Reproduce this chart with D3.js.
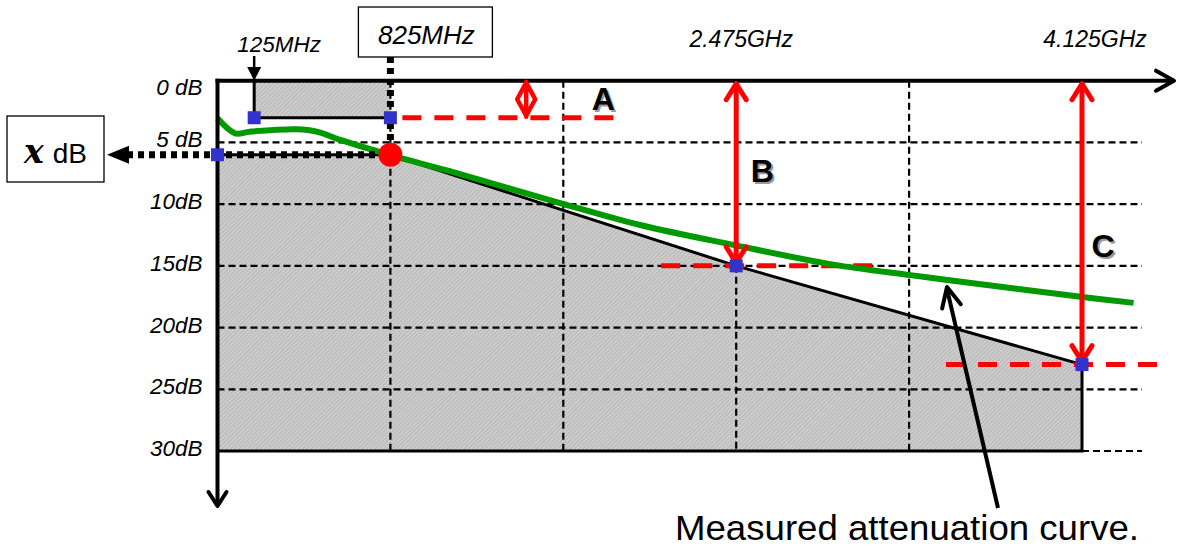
<!DOCTYPE html>
<html><head><meta charset="utf-8">
<script src="https://cdn.jsdelivr.net/npm/d3@7"></script>
<style>body{margin:0;background:#fff}svg{display:block}</style>
</head><body>
<svg id="c" width="1178" height="552"></svg>
<script>
// ---------- data ----------
const gridFreqs = [825, 1650, 2475, 3300];            // MHz, vertical grid
const dbTicks   = [0, 5, 10, 15, 20, 25, 30];
const dbLabels  = ["0 dB", "5 dB", "10dB", "15dB", "20dB", "25dB", "30dB"];
const freqMarks  = [175, 825, 2475, 4125];             // drawn marker positions (MHz)
const freqLabels = ["125MHz", "825MHz", "2.475GHz", "4.125GHz"];
const maskFreq = [0, 825, 2475, 4125];
const maskDb   = [6, 6, 15, 23];
const passFreq = [175, 825];
const passDb   = [3, 3];
const curveFreq = [0, 84, 155, 378, 474, 585, 742, 871, 1100, 1635, 2017, 2461, 2938, 3306, 3483, 4118, 4371];
const curveDb   = [3.05, 4.26, 4.13, 3.94, 4.13, 4.80, 5.61, 6.26, 7.29, 9.91, 11.69, 13.3, 14.9, 15.75, 16.15, 17.5, 18.0];
const limitNames = ["A", "B", "C"];
const limitFreq  = [1473, 2475, 4125];
const limitDb    = [3, 15, 23];
const xdBValue = 6;
const captionText = "Measured attenuation curve.";

// ---------- layout ----------
const svg = d3.select("#c");
const X0 = 217.5, X1 = 1082, Y0 = 80.7, Y1 = 451, GRID_R = 1142;
const x = d3.scaleLinear().domain([0, 4125]).range([X0, X1]);
const y = d3.scaleLinear().domain([0, 30]).range([Y0, Y1]);
const SANS = "'Liberation Sans', Arial, sans-serif";

// hatch pattern
const defs = svg.append("defs");
const pat = defs.append("pattern").attr("id", "hatch").attr("patternUnits", "userSpaceOnUse")
  .attr("width", 3).attr("height", 3).attr("patternTransform", "rotate(45)");
pat.append("rect").attr("width", 3).attr("height", 3).attr("fill", "#cdcdcd");
pat.append("line").attr("x1", 0).attr("y1", 0).attr("x2", 0).attr("y2", 3)
  .attr("stroke", "#a2a2a2").attr("stroke-width", 1);

// shaded mask region
const maskPts = maskFreq.map((f, i) => [x(f), y(maskDb[i])])
  .concat([[x(maskFreq[maskFreq.length - 1]), y(30)], [x(0), y(30)]]);
svg.append("path").attr("d", d3.line()(maskPts) + "Z").attr("fill", "url(#hatch)");
// pass-band region
svg.append("rect").attr("x", x(passFreq[0])).attr("y", y(0))
  .attr("width", x(passFreq[1]) - x(passFreq[0])).attr("height", y(passDb[0]) - y(0))
  .attr("fill", "url(#hatch)");

// grid
const grid = svg.append("g").attr("stroke", "#000").attr("stroke-width", 2.2).attr("stroke-dasharray", "7,4");
dbTicks.filter(d => d > 0 && d < 30).forEach(d => {
  grid.append("line").attr("x1", X0).attr("x2", GRID_R).attr("y1", y(d)).attr("y2", y(d));
});
grid.append("line").attr("x1", x(4125)).attr("x2", GRID_R).attr("y1", y(30)).attr("y2", y(30));
gridFreqs.forEach(f => {
  const top = f === 2475 ? y(15) : Y0;
  grid.append("line").attr("x1", x(f)).attr("x2", x(f)).attr("y1", top).attr("y2", Y1);
});

// outlines
svg.append("path").attr("d", d3.line()(maskPts.slice(1)) )
  .attr("fill", "none").attr("stroke", "#000").attr("stroke-width", 3);
svg.append("path").attr("d", d3.line()([[x(passFreq[0]), y(0)], [x(passFreq[0]), y(passDb[0])], [x(passFreq[1]), y(passDb[1])]]))
  .attr("fill", "none").attr("stroke", "#000").attr("stroke-width", 3);
svg.append("line").attr("x1", X0).attr("x2", x(825)).attr("y1", y(xdBValue)).attr("y2", y(xdBValue))
  .attr("stroke", "#000").attr("stroke-width", 3);

// red dashed limit lines
const redDash = svg.append("g").attr("stroke", "#ff0000").attr("stroke-width", 5).attr("stroke-dasharray", "19,13");
const dashExt = [[-124, 91], [-75, 139], [-136, 78]];
limitFreq.forEach((f, i) => {
  const xr = i === 0 ? x(825) + 12 : x(f) + dashExt[i][0];
  const xe = x(f) + dashExt[i][1];
  redDash.append("line").attr("x1", xr).attr("x2", xe).attr("y1", y(limitDb[i])).attr("y2", y(limitDb[i]));
});

// green measured curve
const curvePts = curveFreq.map((f, i) => [x(f), y(curveDb[i])]);
svg.append("path").attr("d", d3.line().curve(d3.curveCatmullRom.alpha(0.5))(curvePts))
  .attr("fill", "none").attr("stroke", "#009900").attr("stroke-width", 6);

// axes
svg.append("line").attr("x1", X0 - 2).attr("x2", 1174).attr("y1", Y0).attr("y2", Y0)
  .attr("stroke", "#000").attr("stroke-width", 4);
svg.append("path").attr("d", `M1156,${Y0 - 10}L1174,${Y0}L1156,${Y0 + 10}`)
  .attr("fill", "none").attr("stroke", "#000").attr("stroke-width", 4).attr("stroke-linecap", "round").attr("stroke-linejoin", "round");
svg.append("line").attr("x1", X0).attr("x2", X0).attr("y1", Y0 - 2).attr("y2", 505)
  .attr("stroke", "#000").attr("stroke-width", 4);
svg.append("path").attr("d", `M${X0 - 9},492L${X0},506L${X0 + 9},492`)
  .attr("fill", "none").attr("stroke", "#000").attr("stroke-width", 4).attr("stroke-linecap", "round").attr("stroke-linejoin", "round");

// y tick labels via d3 axis
const yAxis = svg.append("g").attr("transform", `translate(${X0},0)`)
  .call(d3.axisLeft(y).tickValues(dbTicks).tickFormat((d, i) => dbLabels[i]).tickSize(0).tickPadding(15));
yAxis.select(".domain").remove();
yAxis.selectAll("text").attr("font-family", SANS).attr("font-style", "italic").attr("font-size", 22.5)
  .attr("fill", "#000").attr("dy", (d, i) => i === 0 ? "0.62em" : "0.2em");

// top frequency labels
const labDx = [25, 36, 5, 13], labY = [52, 44, 47, 47], labSize = [22.5, 26, 23, 23];
freqLabels.forEach((t, i) => {
  svg.append("text").attr("x", x(freqMarks[i]) + labDx[i]).attr("y", labY[i])
    .attr("text-anchor", "middle").attr("font-family", SANS).attr("font-style", "italic")
    .attr("font-size", labSize[i]).text(t);
});
// 825MHz box
svg.append("rect").attr("x", x(825) - 32).attr("y", 7).attr("width", 134).attr("height", 50)
  .attr("fill", "none").attr("stroke", "#000").attr("stroke-width", 1.3);
// 125MHz arrow
svg.append("line").attr("x1", x(175)).attr("x2", x(175)).attr("y1", 56).attr("y2", 70)
  .attr("stroke", "#000").attr("stroke-width", 2.5);
svg.append("path").attr("d", `M${x(175) - 7},67L${x(175) + 7},67L${x(175)},${Y0}Z`).attr("fill", "#000");

// thick dotted lines (825MHz and x dB)
svg.append("line").attr("x1", x(825)).attr("x2", x(825)).attr("y1", 57).attr("y2", y(xdBValue))
  .attr("stroke", "#000").attr("stroke-width", 7).attr("stroke-dasharray", "6,5");
svg.append("line").attr("x1", 127).attr("x2", x(825)).attr("y1", y(xdBValue)).attr("y2", y(xdBValue))
  .attr("stroke", "#000").attr("stroke-width", 7).attr("stroke-dasharray", "6,5");
svg.append("path").attr("d", `M107,${y(xdBValue)}L129,${y(xdBValue) - 9}L129,${y(xdBValue) + 9}Z`).attr("fill", "#000");
// x dB box
svg.append("rect").attr("x", 7).attr("y", 116).attr("width", 97).attr("height", 66)
  .attr("fill", "#fff").attr("stroke", "#000").attr("stroke-width", 1.3);
const xt = svg.append("text").attr("x", 24).attr("y", 163);
xt.append("tspan").attr("font-family", "'DejaVu Serif', serif").attr("font-style", "italic")
  .attr("font-weight", "bold").attr("font-size", 33).text("x");
xt.append("tspan").attr("font-family", SANS).attr("font-size", 28).attr("dx", 9).text("dB");

// red limit arrows
const red = svg.append("g").attr("stroke", "#ff0000").attr("fill", "none")
  .attr("stroke-linecap", "round").attr("stroke-linejoin", "round");
limitFreq.forEach((f, i) => {
  const xx = x(f), yt = Y0 + 1, yb = y(limitDb[i]) - 1;
  if (i === 0) {
    red.append("path").attr("stroke-width", 4.5)
      .attr("d", `M${xx},${yt + 1}L${xx - 9},${(yt + yb) / 2}L${xx},${yb - 1}L${xx + 9},${(yt + yb) / 2}Z M${xx},${yt}L${xx},${yb}`);
  } else {
    red.append("line").attr("stroke-width", 5).attr("x1", xx).attr("x2", xx).attr("y1", yt + 2).attr("y2", yb - 2);
    red.append("path").attr("stroke-width", 5)
      .attr("d", `M${xx - 10},${yt + 18}L${xx},${yt + 2}L${xx + 10},${yt + 18} M${xx - 10},${yb - 18}L${xx},${yb - 2}L${xx + 10},${yb - 18}`);
  }
});
// limit letters
const letPos = [[x(limitFreq[0]) + 77, 110], [x(limitFreq[1]) + 26, 182], [x(limitFreq[2]) + 21, 257]];
limitNames.forEach((n, i) => {
  [["#9a9a9a", 2], ["#000", 0]].forEach(([c, o]) => {
    svg.append("text").attr("x", letPos[i][0] + o).attr("y", letPos[i][1] + o).attr("text-anchor", "middle")
      .attr("font-family", SANS).attr("font-weight", "bold").attr("font-size", 32).attr("fill", c).text(n);
  });
});

// blue markers
const markers = [[passFreq[0], passDb[0]], [passFreq[1], passDb[1]], [0, xdBValue],
  [maskFreq[2], maskDb[2]], [maskFreq[3], maskDb[3]]];
svg.selectAll("rect.mk").data(markers).enter().append("rect").attr("class", "mk")
  .attr("x", d => x(d[0]) - 6.5).attr("y", d => y(d[1]) - 6.5).attr("width", 13).attr("height", 13)
  .attr("fill", "#3333cc");
// red circle
svg.append("circle").attr("cx", x(825)).attr("cy", y(xdBValue)).attr("r", 12).attr("fill", "#ff0000");

// caption arrow
const tip = [947, 287], tail = [998, 508];
const ang = Math.atan2(tail[1] - tip[1], tail[0] - tip[0]);
const wl = 22, wa = 0.45;
svg.append("line").attr("x1", tip[0]).attr("y1", tip[1] + 2).attr("x2", tail[0]).attr("y2", tail[1])
  .attr("stroke", "#000").attr("stroke-width", 4);
svg.append("path").attr("d",
  `M${tip[0] + wl * Math.cos(ang - wa)},${tip[1] + wl * Math.sin(ang - wa)}L${tip[0]},${tip[1]}L${tip[0] + wl * Math.cos(ang + wa)},${tip[1] + wl * Math.sin(ang + wa)}`)
  .attr("fill", "none").attr("stroke", "#000").attr("stroke-width", 4).attr("stroke-linecap", "round").attr("stroke-linejoin", "round");
svg.append("text").attr("x", 675).attr("y", 540).attr("font-family", SANS).attr("font-size", 35)
  .attr("textLength", 464).attr("lengthAdjust", "spacingAndGlyphs").text(captionText);
</script>
</body></html>
